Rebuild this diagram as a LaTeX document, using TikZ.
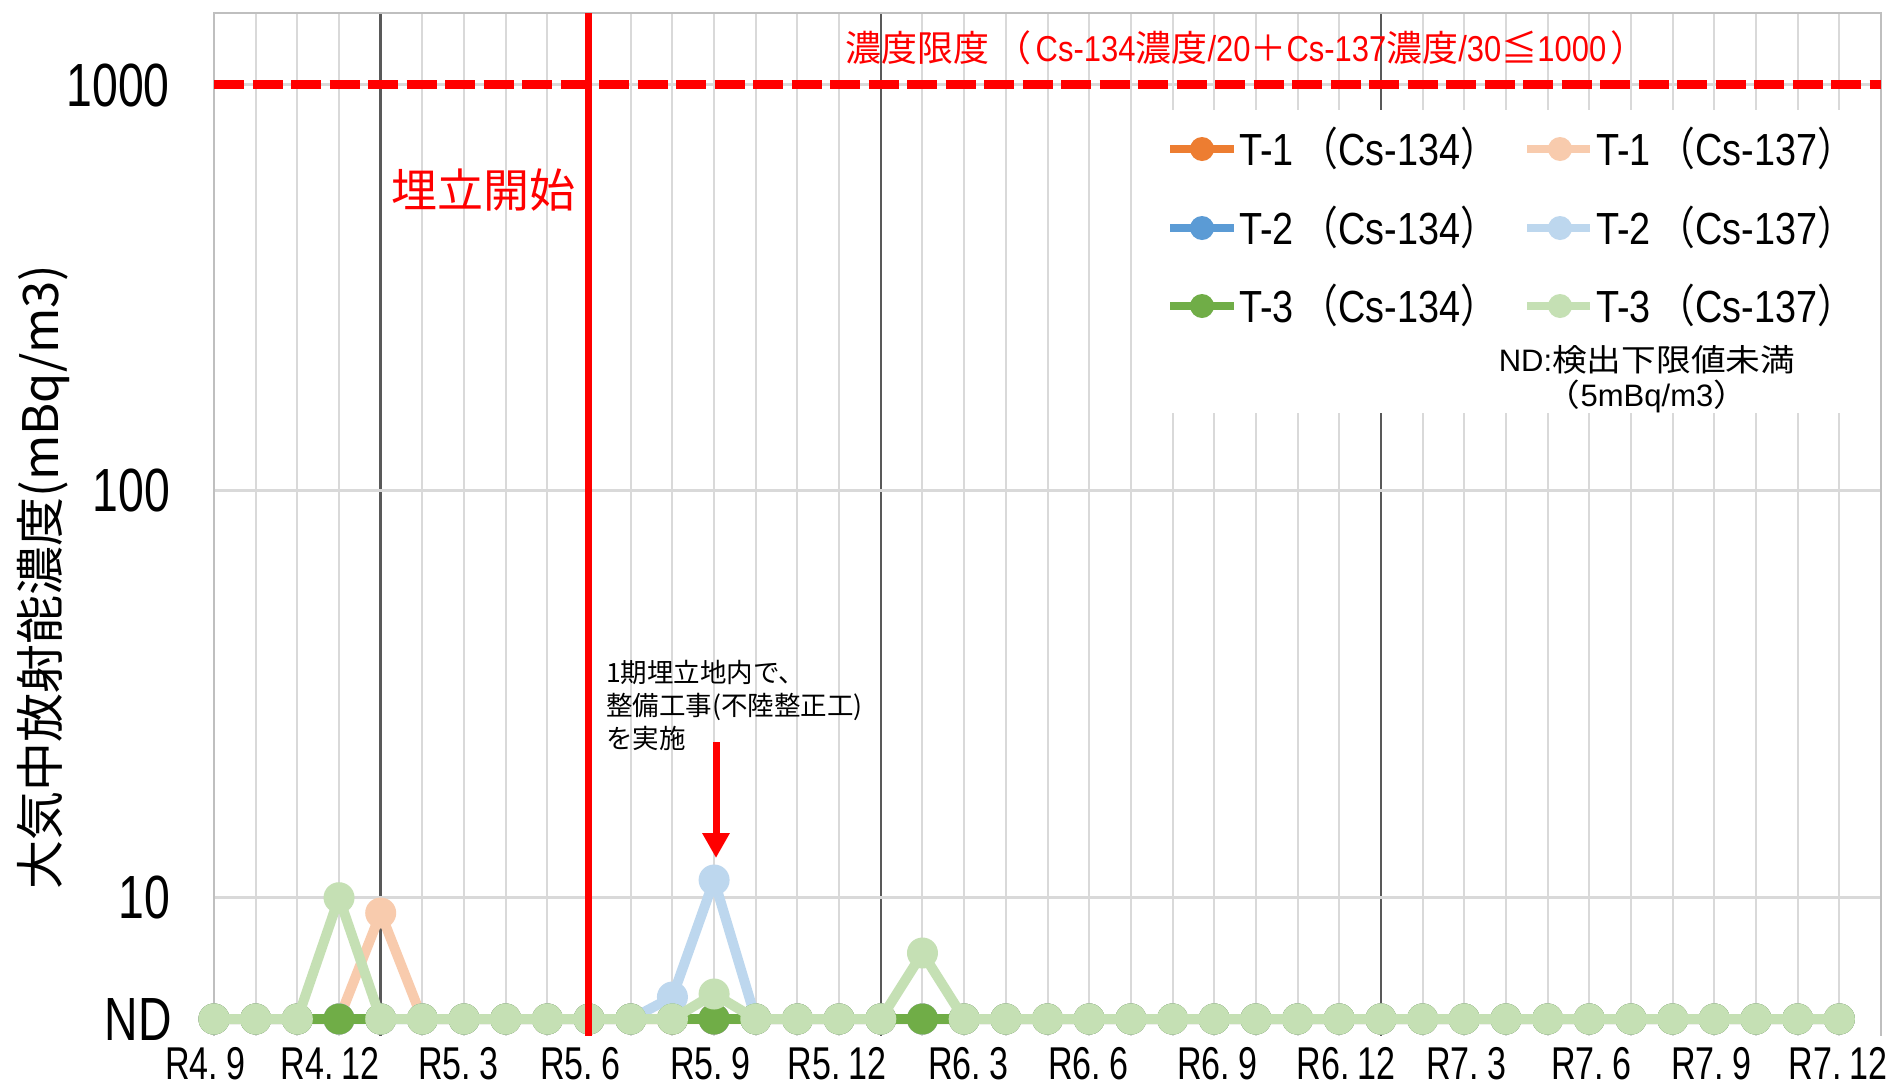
\documentclass[tikz,border=0pt]{standalone}
\usepackage{fontspec}
\usetikzlibrary{arrows.meta}
\newfontfamily\cjk{Noto Sans CJK JP}
\newfontfamily\cjkc[FakeStretch=0.84]{Noto Sans CJK JP}
\newfontfamily\cjkw[FakeStretch=1.12]{Noto Sans CJK JP}
\newfontfamily\latT[FakeStretch=0.74]{Liberation Sans}
\newfontfamily\latY[FakeStretch=0.76]{Liberation Sans}
\newfontfamily\latL[FakeStretch=0.84]{Liberation Sans}
\newfontfamily\latR[FakeStretch=0.86]{Liberation Sans}
\newfontfamily\latN{Liberation Sans}
\definecolor{gridL}{HTML}{D9D9D9}
\definecolor{gridD}{HTML}{595959}
\definecolor{bordC}{HTML}{BFBFBF}
\definecolor{c1}{HTML}{ED7D31}
\definecolor{c2}{HTML}{F8CBAD}
\definecolor{c3}{HTML}{5B9BD5}
\definecolor{c4}{HTML}{BDD7EE}
\definecolor{c5}{HTML}{70AD47}
\definecolor{c6}{HTML}{C5E0B4}
\def\Nf{1019,1019,1019,1019,1019}
\edef\allnd{\Nf,\Nf,\Nf,\Nf,\Nf,\Nf,\Nf,1019,1019,1019,1019}
\edef\serB{1019,1019,1019,913,\Nf,\Nf,\Nf,\Nf,\Nf,\Nf,\Nf}
\edef\serD{\Nf,\Nf,997,880,\Nf,\Nf,\Nf,\Nf,\Nf,1019,1019}
\edef\serF{1019,1019,897.7,\Nf,1019,1019,1019,994,1019,1019,1019,1019,953,\Nf,\Nf,\Nf,\Nf,1019,1019}
\newcommand\drawser[2]{%
  \draw[serline, draw=#1] (214,1019) \foreach \yy [count=\i] in #2 { -- ({214+\i*41.675},\yy) };
  \fill[#1] (214,1019) circle (15.5pt);
  \foreach \yy [count=\i] in #2 { \fill[#1] ({214+\i*41.675},\yy) circle (15.5pt); }
}
\newcommand\lp{\kern7pt{\cjkc （}}
\newcommand\rp{{\cjkc ）}}
\begin{document}
\begin{tikzpicture}[x=1pt,y=-1pt,
  gl/.style={draw=gridL, line width=2pt},
  gd/.style={draw=gridD, line width=2.5pt},
  gh/.style={draw=gridL, line width=3pt},
  bord/.style={draw=bordC, line width=2.5pt},
  serline/.style={line width=10pt, line join=round},
  legline/.style={line width=8pt},
  ticky/.style={anchor=east, inner sep=0pt, font=\latY\fontsize{61}{61}\selectfont},
  tickx/.style={anchor=base, inner sep=0pt, font=\latT\fontsize{46}{46}\selectfont},
  legtxt/.style={anchor=base west, inner sep=0pt, font=\latL\fontsize{45}{45}\selectfont},
  anntxt/.style={anchor=base west, inner sep=0pt, font=\cjk\fontsize{26.5}{26.5}\selectfont},
  notetxt/.style={anchor=base, inner sep=0pt, font=\fontsize{31}{31}\selectfont},
]
\useasboundingbox (0,0) rectangle (1888,1085);
\fill[white] (0,0) rectangle (1888,1085);

% grid
\foreach \i in {1,...,39} \draw[gl] ({214+\i*41.675},13) -- ({214+\i*41.675},1036);
\foreach \i in {4,16,28} \draw[gd] ({214+\i*41.675},13) -- ({214+\i*41.675},1036);
\foreach \yy in {897.7,490.9,84} \draw[gh] (214,\yy) -- (1881,\yy);
\draw[bord] (214,1036) -- (214,13) -- (1881,13) -- (1881,1036);

% legend background
\fill[white] (1160,110) rectangle (1878,413);

% data series
\drawser{c1}{\allnd}
\drawser{c2}{\serB}
\drawser{c3}{\allnd}
\drawser{c4}{\serD}
\drawser{c5}{\allnd}
\drawser{c6}{\serF}

% red limit and start lines
\draw[red, line width=9pt, dash pattern=on 30pt off 8.5pt] (214,84) -- (1881,84);
\draw[red, line width=7pt] (588,13) -- (588,1036);

% y ticks
\node[ticky] (y1000) at (170,85) {1000};
\node[ticky] (y100) at (170,490) {100};
\node[ticky] (y10) at (170,897) {10};
\node[ticky] (ynd) at (172,1020) {ND};

% x ticks
\node[tickx] (x1) at (205,1079) {R4.\kern8pt 9};
\node[tickx] (x2) at (330,1079) {R4.\kern8pt 12};
\node[tickx] (x3) at (458,1079) {R5.\kern8pt 3};
\node[tickx] (x4) at (580,1079) {R5.\kern8pt 6};
\node[tickx] (x5) at (710,1079) {R5.\kern8pt 9};
\node[tickx] (x6) at (837,1079) {R5.\kern8pt 12};
\node[tickx] (x7) at (968,1079) {R6.\kern8pt 3};
\node[tickx] (x8) at (1088,1079) {R6.\kern8pt 6};
\node[tickx] (x9) at (1217,1079) {R6.\kern8pt 9};
\node[tickx] (x10) at (1346,1079) {R6.\kern8pt 12};
\node[tickx] (x11) at (1466,1079) {R7.\kern8pt 3};
\node[tickx] (x12) at (1591,1079) {R7.\kern8pt 6};
\node[tickx] (x13) at (1711,1079) {R7.\kern8pt 9};
\node[tickx] (x14) at (1838,1079) {R7.\kern8pt 12};

% y axis title
\node[rotate=90, inner sep=0pt, font=\cjk\fontsize{49}{49}\selectfont] (ytitle) at (43,577) {大気中放射能濃度(mBq/m3)};

% limit title
\node[anchor=base, inner sep=0pt, text=red, font=\fontsize{36}{36}\selectfont] (limtitle) at (1246,61)
  {{\cjk 濃度限度}\kern6pt{\cjk （}\kern4pt{\latR Cs-134}{\cjk 濃度}{\latR /20}{\cjk ＋}{\latR Cs-137}{\cjk 濃度}{\latR /30}{\cjk ≦}{\latR 1000}\kern4pt{\cjk ）}};

% start label
\node[anchor=base, inner sep=0pt, text=red, font=\cjk\fontsize{46}{46}\selectfont] (start) at (483,207) {埋立開始};

% legend
\draw[legline, c1] (1170,149) -- (1234,149); \fill[c1] (1202,149) circle (12pt);
\node[legtxt] (l1) at (1239,165) {T-1\lp Cs-134\rp};
\draw[legline, c2] (1527,149) -- (1590,149); \fill[c2] (1560,149) circle (12pt);
\node[legtxt] (l2) at (1596,165) {T-1\lp Cs-137\rp};
\draw[legline, c3] (1170,228) -- (1234,228); \fill[c3] (1202,228) circle (12pt);
\node[legtxt] (l3) at (1239,244) {T-2\lp Cs-134\rp};
\draw[legline, c4] (1527,228) -- (1590,228); \fill[c4] (1560,228) circle (12pt);
\node[legtxt] (l4) at (1596,244) {T-2\lp Cs-137\rp};
\draw[legline, c5] (1170,306) -- (1234,306); \fill[c5] (1202,306) circle (12pt);
\node[legtxt] (l5) at (1239,322) {T-3\lp Cs-134\rp};
\draw[legline, c6] (1527,306) -- (1590,306); \fill[c6] (1560,306) circle (12pt);
\node[legtxt] (l6) at (1596,322) {T-3\lp Cs-137\rp};

% ND note
\node[notetxt] (nd1) at (1647,371) {{\latN ND:}{\cjkw 検出下限値未満}};
\node[notetxt] (nd2) at (1647,406) {{\cjkw （}{\latN 5mBq/m3}{\cjkw ）}};

% annotation
\node[anntxt] (ann1) at (606,682) {1期埋立地内で、};
\node[anntxt] (ann2) at (606,715) {整備工事(不陸整正工)};
\node[anntxt] (ann3) at (606,748) {を実施};

% arrow
\coordinate (aS) at (716,742);
\coordinate (aE) at (716,858);
\draw[red, line width=7pt, -{Triangle[width=26pt,length=25pt]}] (aS) -- (aE);
\end{tikzpicture}
\end{document}
